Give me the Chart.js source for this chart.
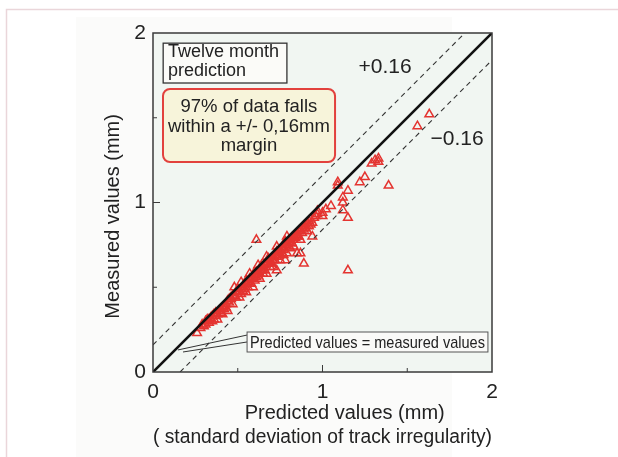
<!DOCTYPE html>
<html>
<head>
<meta charset="utf-8">
<script src="https://cdn.jsdelivr.net/npm/chart.js@4.4.1/dist/chart.umd.min.js"></script>
<style>
  html, body { margin: 0; padding: 0; background: #ffffff; }
  #chart { display: block; }
</style>
</head>
<body>
<canvas id="chart" width="618" height="457"></canvas>
<script>
const predicted = [
  0.26, 0.28, 0.30, 0.31, 0.32, 0.33, 0.34, 0.35, 0.36, 0.36, 0.37, 0.38, 0.39, 0.40, 0.41, 0.41,
  0.42, 0.42, 0.43, 0.44, 0.45, 0.46, 0.46, 0.47, 0.48, 0.48, 0.49, 0.50, 0.50, 0.51, 0.52, 0.52,
  0.53, 0.53, 0.54, 0.55, 0.55, 0.56, 0.57, 0.57, 0.58, 0.58, 0.59, 0.60, 0.60, 0.61, 0.61, 0.62,
  0.62, 0.62, 0.63, 0.64, 0.64, 0.65, 0.66, 0.66, 0.67, 0.67, 0.68, 0.68, 0.69, 0.70, 0.70, 0.71,
  0.72, 0.72, 0.73, 0.73, 0.73, 0.74, 0.74, 0.75, 0.76, 0.76, 0.77, 0.78, 0.78, 0.78, 0.79, 0.79,
  0.80, 0.80, 0.81, 0.82, 0.82, 0.83, 0.84, 0.84, 0.85, 0.85, 0.86, 0.86, 0.87, 0.87, 0.88, 0.88,
  0.89, 0.89, 0.90, 0.90, 0.91, 0.92, 0.92, 0.93, 0.94, 0.94, 0.95, 0.97, 0.97, 1.00, 1.00, 1.02,
  1.05, 1.09, 1.09, 1.12, 1.12, 1.12, 1.15, 1.15, 1.15, 1.22, 1.25, 1.29, 1.31, 1.33, 1.33, 1.39,
  1.56, 1.63,
  0.29, 0.31, 0.33, 0.35, 0.37, 0.38, 0.40, 0.43, 0.44, 0.45, 0.47, 0.49, 0.51, 0.52, 0.54, 0.55,
  0.56, 0.57, 0.59, 0.60, 0.61, 0.63, 0.63, 0.65, 0.65, 0.67, 0.69, 0.69, 0.71, 0.71, 0.73, 0.75,
  0.75, 0.77, 0.77, 0.79, 0.81, 0.81, 0.83, 0.83, 0.85, 0.87, 0.89, 0.91, 0.93, 0.96
];
const measured = [
  0.23, 0.26, 0.27, 0.30, 0.31, 0.29, 0.32, 0.30, 0.34, 0.31, 0.33, 0.31, 0.36, 0.35, 0.38, 0.34,
  0.37, 0.39, 0.40, 0.36, 0.41, 0.43, 0.44, 0.40, 0.45, 0.50, 0.44, 0.47, 0.49, 0.44, 0.49, 0.53,
  0.48, 0.50, 0.51, 0.47, 0.54, 0.53, 0.52, 0.58, 0.55, 0.52, 0.50, 0.57, 0.59, 0.56, 0.78, 0.59,
  0.63, 0.57, 0.55, 0.61, 0.63, 0.60, 0.63, 0.60, 0.58, 0.68, 0.65, 0.67, 0.64, 0.67, 0.64, 0.62,
  0.69, 0.66, 0.68, 0.74, 0.60, 0.71, 0.69, 0.66, 0.73, 0.70, 0.72, 0.75, 0.77, 0.66, 0.70, 0.80,
  0.77, 0.74, 0.76, 0.79, 0.76, 0.74, 0.81, 0.79, 0.80, 0.70, 0.83, 0.80, 0.78, 0.70, 0.85, 0.82,
  0.84, 0.64, 0.87, 0.85, 0.83, 0.89, 0.86, 0.90, 0.88, 0.80, 0.91, 0.93, 0.95, 0.92, 0.94, 0.96,
  0.98, 1.10, 1.12, 1.03, 1.00, 0.955, 0.91, 1.07, 0.60, 1.12, 1.15, 1.23, 1.25, 1.26, 1.24, 1.10,
  1.45, 1.52,
  0.28, 0.28, 0.31, 0.33, 0.35, 0.34, 0.37, 0.38, 0.42, 0.43, 0.45, 0.47, 0.48, 0.46, 0.49, 0.52,
  0.50, 0.55, 0.56, 0.54, 0.59, 0.60, 0.58, 0.62, 0.58, 0.64, 0.66, 0.62, 0.68, 0.66, 0.71, 0.72,
  0.69, 0.74, 0.69, 0.76, 0.78, 0.73, 0.80, 0.78, 0.82, 0.84, 0.86, 0.88, 0.87, 0.92
];

// Droites de référence : prédit = mesuré, et marge +/- 0,16 mm
const equalX = [0, 2];
const equalY = [0, 2];
const upperX = [0, 1.84];
const upperY = [0.16, 2];
const lowerX = [0.16, 2];
const lowerY = [0, 1.84];

// Graduations des axes
const axisMin = 0;
const axisMax = 2;
const tickStep = 1;
const minorTicks = [0.5, 1, 1.5];

const toPoints = (xs, ys) => xs.map((x, i) => ({ x: x, y: ys[i] }));

const FONT = "'Liberation Sans', Arial, Helvetica, sans-serif";
const INK = "#222222";

// Plugin maison : fond, cadre, graduations intérieures et annotations
const decor = {
  id: "decor",
  beforeDraw(chart) {
    const { ctx, chartArea: a } = chart;
    ctx.save();
    // fond à peine grisé de l'image d'origine
    ctx.fillStyle = "#fbfbfa";
    ctx.fillRect(76, 17, 376, 440);
    // cadre rose de la page
    ctx.strokeStyle = "#ead6da";
    ctx.lineWidth = 1.5;
    ctx.beginPath();
    ctx.moveTo(6.5, 457);
    ctx.lineTo(6.5, 9.5);
    ctx.lineTo(618, 9.5);
    ctx.stroke();
    // zone de tracé
    ctx.fillStyle = "#f1f6f2";
    ctx.fillRect(a.left, a.top, a.right - a.left, a.bottom - a.top);
    ctx.restore();
  },
  afterDraw(chart) {
    const { ctx, chartArea: a } = chart;
    const xs = chart.scales.x;
    const ys = chart.scales.y;
    const px = (v) => xs.getPixelForValue(v);
    const py = (v) => ys.getPixelForValue(v);
    ctx.save();

    // cadre du graphique
    ctx.strokeStyle = "#3a3a3a";
    ctx.lineWidth = 1.5;
    ctx.strokeRect(a.left, a.top, a.right - a.left, a.bottom - a.top);

    // graduations vers l'intérieur
    ctx.lineWidth = 1;
    minorTicks.forEach((t) => {
      const len = t === 1 ? 7 : 4;
      ctx.beginPath();
      ctx.moveTo(px(t), a.bottom);
      ctx.lineTo(px(t), a.bottom - len);
      ctx.moveTo(a.left, py(t));
      ctx.lineTo(a.left + len, py(t));
      ctx.stroke();
    });

    ctx.fillStyle = INK;
    ctx.textBaseline = "middle";

    // encadré "Twelve month prediction"
    ctx.fillStyle = "#fbfbf8";
    ctx.fillRect(px(0.06), py(1.94), px(0.79) - px(0.06), py(1.705) - py(1.94));
    ctx.strokeStyle = "#333333";
    ctx.lineWidth = 1.3;
    ctx.strokeRect(px(0.06), py(1.94), px(0.79) - px(0.06), py(1.705) - py(1.94));
    ctx.fillStyle = INK;
    ctx.font = "18px " + FONT;
    ctx.textAlign = "left";
    ctx.fillText("Twelve month", px(0.088), py(1.888));
    ctx.fillText("prediction", px(0.088), py(1.778));

    // encadré rouge "97 % ..."
    const bx = px(0.059), by = py(1.67), bw = px(1.074) - bx, bh = py(1.239) - by;
    ctx.beginPath();
    ctx.roundRect(bx, by, bw, bh, 7);
    ctx.fillStyle = "#f7f4da";
    ctx.fill();
    ctx.strokeStyle = "#e2413d";
    ctx.lineWidth = 2;
    ctx.stroke();
    ctx.fillStyle = INK;
    ctx.font = "18.5px " + FONT;
    ctx.textAlign = "center";
    ctx.fillText("97% of data falls", px(0.566), py(1.563));
    ctx.fillText("within a +/- 0,16mm", px(0.566), py(1.445));
    ctx.fillText("margin", px(0.566), py(1.335));

    // étiquettes des marges
    ctx.font = "21px " + FONT;
    ctx.fillText("+0.16", px(1.369), py(1.80));
    ctx.fillText("\u22120.16", px(1.794), py(1.375));

    // renvoi "Predicted values = measured values"
    ctx.strokeStyle = "#333333";
    ctx.lineWidth = 1;
    ctx.beginPath();
    ctx.moveTo(px(0.147), py(0.130));
    ctx.lineTo(px(0.555), py(0.218));
    ctx.moveTo(px(0.177), py(0.118));
    ctx.lineTo(px(0.555), py(0.177));
    ctx.stroke();
    const lx = px(0.555), ly = py(0.236), lw = px(1.976) - lx, lh = py(0.118) - ly;
    ctx.fillStyle = "#fafaf8";
    ctx.fillRect(lx, ly, lw, lh);
    ctx.strokeStyle = "#555555";
    ctx.strokeRect(lx, ly, lw, lh);
    ctx.fillStyle = INK;
    ctx.font = "17px " + FONT;
    ctx.fillText("Predicted values = measured values", lx + lw / 2, ly + lh / 2 + 1, lw - 6);

    ctx.restore();
  }
};

const ctx = document.getElementById("chart").getContext("2d");
const chart = new Chart(ctx, {
  type: "scatter",
  data: {
    datasets: [
      {
        label: "Predicted = measured",
        type: "line",
        data: toPoints(equalX, equalY),
        borderColor: "#111111",
        borderWidth: 2.6,
        pointRadius: 0,
        order: 0
      },
      {
        label: "+0.16",
        type: "line",
        data: toPoints(upperX, upperY),
        borderColor: "#333333",
        borderWidth: 1.1,
        borderDash: [5, 4],
        pointRadius: 0,
        order: 0
      },
      {
        label: "-0.16",
        type: "line",
        data: toPoints(lowerX, lowerY),
        borderColor: "#333333",
        borderWidth: 1.1,
        borderDash: [5, 4],
        pointRadius: 0,
        order: 0
      },
      {
        label: "Twelve month prediction",
        data: toPoints(predicted, measured),
        pointStyle: "triangle",
        pointRadius: 5,
        borderColor: "rgb(228, 52, 48)",
        backgroundColor: "rgba(255, 255, 255, 0)",
        borderWidth: 1.5,
        order: 1
      }
    ]
  },
  options: {
    responsive: false,
    animation: false,
    devicePixelRatio: 1,
    layout: { padding: { top: 33, right: 126, left: 0, bottom: 0 } },
    plugins: {
      legend: { display: false },
      tooltip: { enabled: false }
    },
    scales: {
      x: {
        type: "linear",
        min: axisMin,
        max: axisMax,
        afterFit: (scale) => { scale.height = 85; },
        grid: { display: false, drawTicks: false },
        border: { display: false },
        ticks: {
          stepSize: tickStep,
          padding: 8,
          color: INK,
          font: { family: FONT, size: 21 }
        },
        title: {
          display: true,
          text: ["        Predicted values (mm)", "( standard deviation of track irregularity)"],
          color: INK,
          font: { family: FONT, size: 20, lineHeight: 1.2 },
          padding: { top: 0, bottom: 8 }
        }
      },
      y: {
        type: "linear",
        min: axisMin,
        max: axisMax,
        afterFit: (scale) => { scale.width = 153; },
        grid: { display: false, drawTicks: false },
        border: { display: false },
        ticks: {
          stepSize: tickStep,
          padding: 7,
          color: INK,
          font: { family: FONT, size: 21 }
        },
        title: {
          display: true,
          text: "Measured values (mm)     ",
          color: INK,
          font: { family: FONT, size: 20, lineHeight: 1.2 },
          padding: { top: 101, bottom: 0 }
        }
      }
    }
  },
  plugins: [decor]
});
</script>
</body>
</html>
